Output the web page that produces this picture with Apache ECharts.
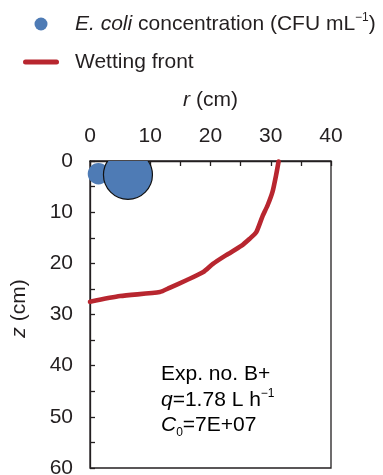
<!DOCTYPE html>
<html>
<head>
<meta charset="utf-8">
<script src="https://cdn.jsdelivr.net/npm/echarts@6/dist/echarts.min.js"></script>
<style>
  html, body { margin: 0; padding: 0; background: #fff; }
  #chart { width: 383px; height: 475px; }
</style>
</head>
<body>
<div id="chart"></div>
<script>
// E. coli sampling points: radial distance r (cm), depth z (cm), concentration (CFU/mL)
const bubbleR = [1.4, 6.3];
const bubbleZ = [2.5, 2.7];
const bubbleConc = [1.3e7, 6.8e7];

// Wetting front trace: radial distance r (cm) and depth z (cm)
const frontR = [31.3, 30.9, 30.3, 29.5, 28.6, 27.6, 26.5, 25.1, 22.6, 20.4, 18.8, 16.0, 13.2, 11.6, 5.0, 0.0];
const frontZ = [0.1, 2.7, 6.0, 8.6, 10.9, 13.9, 15.2, 16.6, 18.4, 20.1, 21.7, 23.3, 24.8, 25.6, 26.4, 27.5];

// Labelled ticks on each axis
const rTickLabels = [0, 10, 20, 30, 40];
const zTickLabels = [0, 10, 20, 30, 40, 50, 60];

const FONT = "'Liberation Sans', Arial, Helvetica, sans-serif";
const INK = '#231f20';
const BLUE = '#4e7bb5';
const RED = '#b8262f';
const MAX_CONC = Math.max.apply(null, bubbleConc);
const MAX_DIAM = 49;

const bubbleData = bubbleR.map((r, i) => [r, bubbleZ[i], bubbleConc[i]]);
const frontData = frontR.map((r, i) => [r, frontZ[i]]);

const chart = echarts.init(document.getElementById('chart'), null, { renderer: 'canvas' });

const baseText = { fontFamily: FONT, fontSize: 21, color: INK };

chart.setOption({
  animation: false,
  backgroundColor: '#fff',
  textStyle: { fontFamily: FONT, color: INK },
  grid: {
    left: 90, top: 161, width: 241, height: 307,
    show: true, borderColor: INK, borderWidth: 1.3,
    containLabel: false, outerBoundsMode: 'none'
  },
  legend: {
    orient: 'vertical',
    left: 23, top: 12,
    padding: 0,
    itemWidth: 36, itemHeight: 13, itemGap: 17,
    symbolKeepAspect: true,
    data: [
      { name: 'conc', icon: 'circle', itemStyle: { color: BLUE, borderWidth: 0 } },
      {
        name: 'front',
        icon: 'path://M2.5,0 H33.5 A2.5,2.5 0 0 1 33.5,5 H2.5 A2.5,2.5 0 0 1 2.5,0 Z',
        itemStyle: { color: RED, borderWidth: 0 }
      }
    ],
    formatter: function (name) {
      if (name === 'conc') return '{it|E. coli}{n| concentration (CFU mL}{sup|−1}{n|)}';
      return '{n|Wetting front}';
    },
    textStyle: {
      padding: [0, 0, 0, 11],
      rich: {
        n: Object.assign({}, baseText, { lineHeight: 24 }),
        it: Object.assign({}, baseText, { fontStyle: 'italic', lineHeight: 24 }),
        sup: Object.assign({}, baseText, { fontSize: 12, lineHeight: 12, verticalAlign: 'top' })
      }
    }
  },
  xAxis: {
    type: 'value',
    position: 'top',
    min: 0, max: 40, interval: 5,
    name: '{i|r}{n| (cm)}',
    nameLocation: 'middle',
    nameGap: 50,
    nameTextStyle: {
      rich: {
        i: Object.assign({}, baseText, { fontStyle: 'italic' }),
        n: Object.assign({}, baseText)
      }
    },
    axisLine: { show: true, onZero: false, lineStyle: { color: INK, width: 1.3 } },
    axisTick: { show: true, inside: true, length: 5, lineStyle: { color: INK, width: 1.3 } },
    axisLabel: {
      fontFamily: FONT, fontSize: 21, color: INK, margin: 14,
      formatter: v => rTickLabels.indexOf(v) >= 0 ? String(v) : ''
    },
    splitLine: { show: false }
  },
  yAxis: {
    type: 'value',
    inverse: true,
    min: 0, max: 60, interval: 5,
    name: '{i|z}{n| (cm)}',
    nameLocation: 'middle',
    nameRotate: 90,
    nameGap: 60,
    nameTextStyle: {
      padding: [0, 0, 0, 12],
      rich: {
        i: Object.assign({}, baseText, { fontStyle: 'italic' }),
        n: Object.assign({}, baseText)
      }
    },
    axisLine: { show: true, onZero: false, lineStyle: { color: INK, width: 1.3 } },
    axisTick: { show: true, inside: true, length: 5, lineStyle: { color: INK, width: 1.3 } },
    axisLabel: {
      fontFamily: FONT, fontSize: 21, color: INK, margin: 17,
      formatter: v => zTickLabels.indexOf(v) >= 0 ? String(v) : ''
    },
    splitLine: { show: false }
  },
  series: [
    {
      name: 'conc',
      type: 'custom',
      data: bubbleData,
      encode: { x: 0, y: 1 },
      z: 3,
      renderItem: function (params, api) {
        const pt = api.coord([api.value(0), api.value(1)]);
        const origin = api.coord([0, 0]);
        const d = MAX_DIAM * Math.sqrt(api.value(2) / MAX_CONC);
        const isMax = api.value(2) === MAX_CONC;
        return {
          type: 'circle',
          shape: { cx: pt[0], cy: pt[1], r: d / 2 },
          style: {
            fill: BLUE,
            stroke: isMax ? '#111' : null,
            lineWidth: isMax ? 1.2 : 0
          },
          clipPath: {
            type: 'rect',
            shape: { x: origin[0] - 6, y: origin[1], width: 400, height: 400 }
          }
        };
      }
    },
    {
      name: 'front',
      type: 'line',
      data: frontData,
      showSymbol: false,
      symbol: 'none',
      smooth: 0.2,
      z: 4,
      lineStyle: { color: RED, width: 4.6, cap: 'round', join: 'round' },
      itemStyle: { color: RED }
    }
  ],
  graphic: [
    {
      type: 'text',
      left: 161,
      top: 364,
      style: {
        text: '{n|Exp. no. B+}\n{i|q}{n|=1.78 L h}{sup|−1}\n{i|C}{sub|0}{n|=7E+07}',
        rich: {
          n: Object.assign({}, baseText, { lineHeight: 25.5 }),
          i: Object.assign({}, baseText, { fontStyle: 'italic', lineHeight: 25.5 }),
          sup: Object.assign({}, baseText, { fontSize: 12, lineHeight: 14, verticalAlign: 'top' }),
          sub: Object.assign({}, baseText, { fontSize: 12, lineHeight: 12, verticalAlign: 'bottom' })
        }
      }
    }
  ]
});
</script>
</body>
</html>
